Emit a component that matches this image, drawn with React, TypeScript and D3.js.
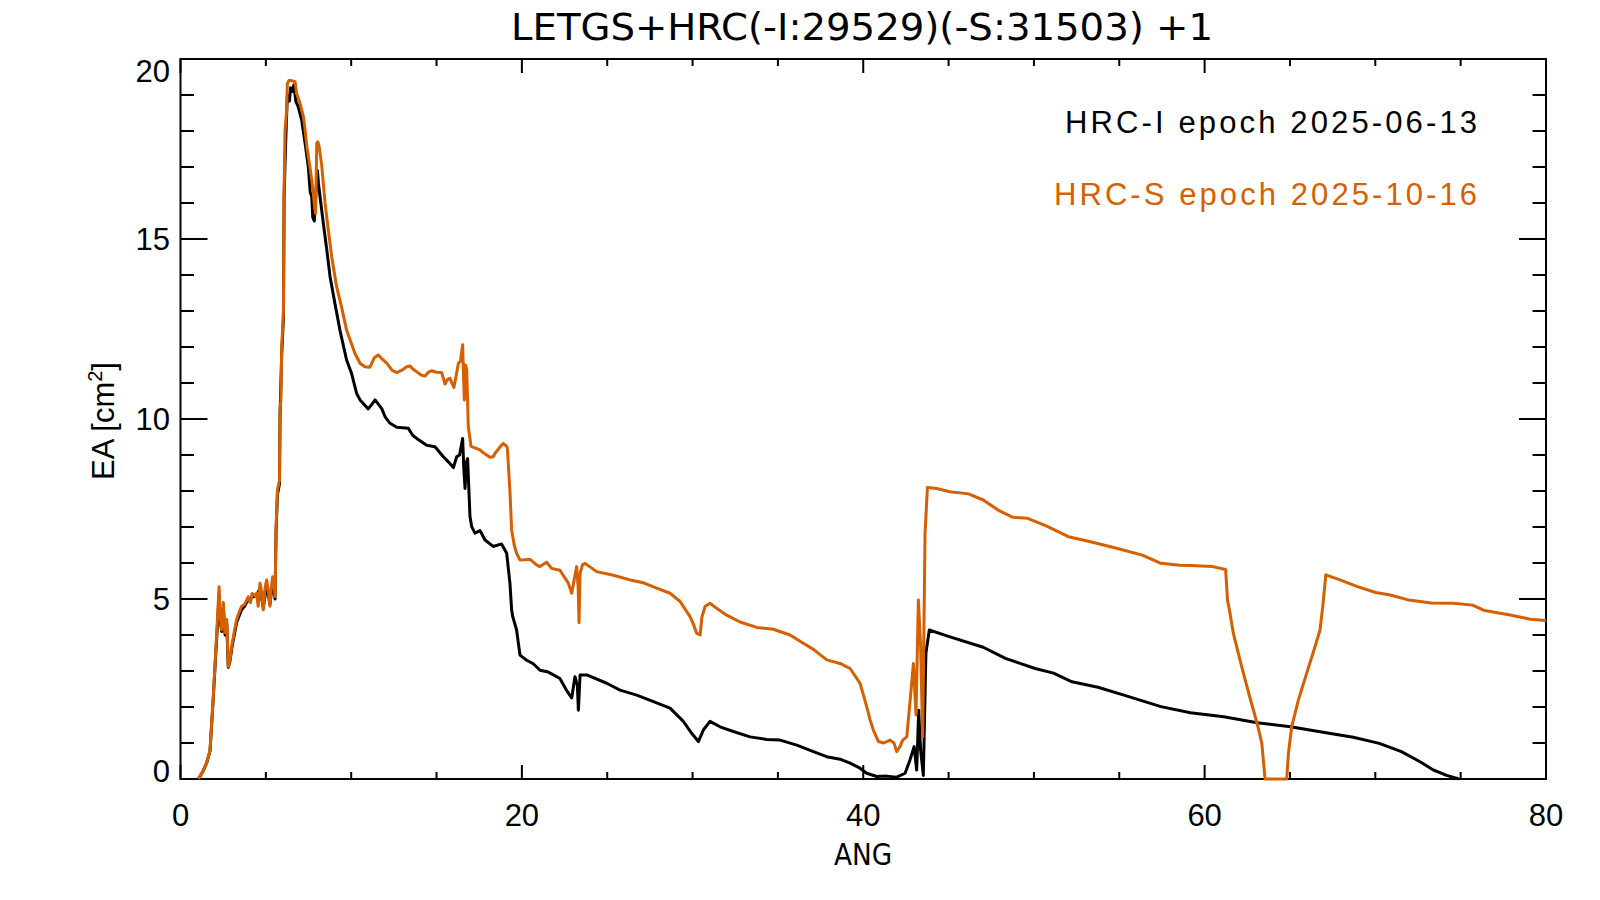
import React, { useEffect, useRef } from 'react';
import * as d3 from 'd3';

// HRC-I effective area (black)
const hrcIAng = [
  1.05, 1.3, 1.53, 1.73, 1.92, 2.08, 2.18, 2.26, 2.33, 2.41, 2.51, 2.61, 2.71, 2.8, 2.9, 3.0, 3.15, 3.29, 3.45, 3.58,
  3.75, 3.97, 4.2, 4.46, 4.66, 4.85, 5.05, 5.24, 5.4, 5.54, 5.6, 5.68, 5.8, 5.83, 5.93, 6.03, 6.07, 6.17, 6.26, 6.38,
  6.45, 6.56, 6.64, 6.76, 6.9, 7.1, 7.3, 7.49, 7.6, 7.69, 7.75, 7.84, 7.95, 8.02, 8.08, 8.22, 8.37, 8.57, 8.76, 9.05,
  9.34, 9.73, 10.02, 10.32, 10.52, 11.0, 11.2, 11.4, 11.79, 12.0, 12.28, 12.67, 13.35, 13.6, 13.84, 14.42, 14.91, 15.4, 15.69, 15.99,
  16.18, 16.35, 16.53, 16.6, 16.67, 16.75, 16.82, 16.96, 17.06, 17.25, 17.55, 17.84, 18.32, 18.81, 19.11, 19.3, 19.4, 19.46, 19.69, 19.89,
  20.28, 20.67, 21.06, 21.55, 22.23, 22.62, 22.92, 23.11, 23.25, 23.31, 23.41, 23.8, 24.97, 25.75, 26.73, 27.71, 28.68, 29.46, 29.95, 30.34,
  30.63, 31.02, 31.61, 32.39, 33.37, 34.35, 35.13, 36.11, 37.08, 37.86, 38.64, 39.23, 39.81, 40.2, 40.79, 41.37, 41.96, 42.45, 42.74, 42.98,
  43.13, 43.25, 43.36, 43.52, 43.67, 43.87, 45.08, 47.03, 48.33, 50.07, 51.15, 52.23, 53.75, 55.27, 57.44, 59.17, 61.12, 63.08, 65.03, 66.76,
  68.71, 70.23, 71.53, 72.62, 73.4, 74.18, 74.9,
];
const hrcIEa = [
  0, 0.2, 0.44, 0.78, 2.25, 3.6, 4.4, 5.1, 4.4, 4.1, 4.7, 4.0, 4.3, 3.1, 3.28, 3.62, 4.0, 4.35, 4.55, 4.7,
  4.8, 4.98, 5.05, 5.1, 5.3, 4.75, 5.4, 4.85, 5.5, 5.0, 6.9, 7.9, 8.2, 10.1, 11.8, 12.8, 16.2, 17.8, 19.0, 18.83,
  19.2, 19.1, 19.28, 18.82, 18.67, 18.3, 17.66, 17.0, 16.3, 16.17, 15.6, 15.5, 16.4, 16.9, 16.55, 16.0, 15.43, 14.7, 13.96, 13.2,
  12.47, 11.64, 11.27, 10.71, 10.53, 10.28, 10.4, 10.53, 10.29, 10.05, 9.88, 9.77, 9.74, 9.55, 9.46, 9.27, 9.23, 8.95, 8.81, 8.65,
  8.95, 9.0, 9.46, 8.6, 8.07, 8.8, 8.9, 7.29, 7.01, 6.83, 6.9, 6.64, 6.46, 6.53, 6.27, 5.44, 4.7, 4.52, 4.14, 3.44,
  3.3, 3.2, 3.02, 2.97, 2.79, 2.46, 2.25, 2.84, 2.6, 1.91, 2.89, 2.89, 2.66, 2.47, 2.33, 2.15, 1.97, 1.6, 1.27, 1.04,
  1.36, 1.6, 1.45, 1.32, 1.17, 1.1, 1.08, 0.94, 0.76, 0.62, 0.55, 0.44, 0.3, 0.16, 0.07, 0.08, 0.05, 0.16, 0.53, 0.9,
  0.25, 1.91, 0.8, 0.1, 3.49, 4.14, 3.95, 3.66, 3.35, 3.07, 2.94, 2.7, 2.55, 2.33, 2.01, 1.84, 1.73, 1.56, 1.45, 1.31,
  1.16, 0.99, 0.76, 0.48, 0.25, 0.1, 0,
];

// HRC-S effective area (orange)
const hrcSAng = [
  1.05, 1.3, 1.53, 1.73, 1.92, 2.08, 2.18, 2.26, 2.33, 2.41, 2.51, 2.61, 2.71, 2.8, 2.9, 3.0, 3.15, 3.29, 3.45, 3.58,
  3.75, 3.97, 4.1, 4.2, 4.35, 4.46, 4.55, 4.66, 4.75, 4.85, 4.95, 5.05, 5.15, 5.24, 5.32, 5.4, 5.5, 5.54, 5.6, 5.68,
  5.8, 5.83, 5.88, 5.93, 6.03, 6.07, 6.12, 6.22, 6.26, 6.35, 6.5, 6.71, 6.8, 7.0, 7.2, 7.3, 7.4, 7.55, 7.69, 7.78,
  7.85, 7.92, 7.98, 8.05, 8.12, 8.27, 8.47, 8.66, 8.86, 9.15, 9.44, 9.73, 10.22, 10.52, 10.8, 11.1, 11.35, 11.59, 11.85, 12.08,
  12.4, 12.67, 13.05, 13.25, 13.45, 13.64, 13.84, 14.1, 14.33, 14.52, 14.71, 15.0, 15.3, 15.5, 15.65, 15.79, 15.9, 16.02, 16.15, 16.28,
  16.4, 16.53, 16.58, 16.63, 16.7, 16.77, 16.82, 16.86, 17.02, 17.25, 17.55, 17.64, 18.13, 18.32, 18.43, 18.82, 18.91, 19.11, 19.15, 19.3,
  19.4, 19.55, 19.69, 19.89, 20.38, 20.48, 20.86, 21.06, 21.45, 21.74, 22.23, 22.5, 22.72, 22.92, 23.05, 23.21, 23.3, 23.35, 23.41, 23.55,
  23.7, 24.38, 25.36, 26.34, 27.12, 27.9, 28.68, 29.27, 29.85, 30.05, 30.24, 30.44, 30.55, 30.73, 31.02, 31.41, 32.0, 32.78, 33.76, 34.73,
  35.71, 36.49, 37.08, 37.86, 38.64, 39.23, 39.81, 40.0, 40.2, 40.4, 40.59, 40.89, 41.2, 41.57, 41.8, 41.96, 42.15, 42.31, 42.55, 42.75,
  42.94, 43.09, 43.23, 43.36, 43.48, 43.62, 43.76, 44.3, 45.08, 46.17, 47.03, 47.9, 48.77, 49.63, 50.72, 52.02, 53.32, 54.84, 56.35, 57.44,
  58.56, 59.17, 60.47, 61.23, 61.34, 61.49, 61.68, 62.17, 62.66, 63.1, 63.35, 63.54, 64.81, 64.91, 65.1, 65.49, 65.98, 66.47, 66.76, 66.92,
  67.1, 67.93, 68.91, 70.02, 70.88, 71.97, 73.27, 74.57, 75.7, 76.4, 77.82, 79.08, 80,
];
const hrcSEa = [
  0, 0.2, 0.44, 0.8, 2.29, 3.68, 4.6, 5.34, 4.5, 4.14, 4.9, 4.06, 4.43, 3.12, 3.3, 3.68, 4.1, 4.43, 4.65, 4.8,
  4.85, 5.06, 4.9, 5.15, 5.1, 5.16, 4.8, 5.44, 5.2, 4.7, 5.3, 5.53, 5.2, 4.8, 5.3, 5.62, 5.3, 5.06, 7.0, 8.03,
  8.3, 10.25, 10.5, 12.0, 13.0, 16.36, 17.98, 18.58, 19.32, 19.4, 19.4, 19.37, 19.05, 18.77, 18.4, 18.03, 17.57, 17.1, 16.64, 16.27,
  15.9, 15.71, 17.66, 17.7, 17.57, 17.06, 16.0, 15.25, 14.5, 13.67, 13.1, 12.47, 11.82, 11.55, 11.45, 11.44, 11.7, 11.78, 11.65, 11.55,
  11.35, 11.29, 11.38, 11.45, 11.47, 11.38, 11.31, 11.22, 11.19, 11.3, 11.34, 11.3, 11.29, 10.97, 11.1, 11.13, 11.0, 10.88, 11.2, 11.55,
  11.6, 12.06, 11.2, 10.53, 11.5, 11.36, 10.5, 9.79, 9.24, 9.2, 9.14, 9.1, 8.94, 8.95, 9.05, 9.28, 9.32, 9.24, 9.19, 8.0,
  6.92, 6.5, 6.27, 6.08, 6.1, 6.1, 5.95, 5.9, 6.02, 5.85, 5.8, 5.6, 5.44, 5.16, 5.5, 5.9, 5.3, 4.34, 5.71, 5.95,
  5.99, 5.76, 5.66, 5.53, 5.45, 5.3, 5.16, 4.93, 4.51, 4.3, 4.05, 4.0, 4.5, 4.79, 4.88, 4.74, 4.55, 4.36, 4.21, 4.16,
  4.0, 3.77, 3.6, 3.31, 3.21, 3.07, 2.66, 2.35, 2.01, 1.65, 1.36, 1.04, 1.0, 1.08, 1.0, 0.76, 0.9, 1.08, 1.17, 2.2,
  3.21, 1.78, 4.97, 3.68, 1.17, 6.82, 8.1, 8.07, 7.98, 7.92, 7.75, 7.47, 7.27, 7.24, 7.03, 6.73, 6.59, 6.41, 6.22, 5.99,
  5.94, 5.93, 5.9, 5.82, 4.97, 4.6, 4.05, 3.12, 2.25, 1.5, 0.99, 0, 0, 0.71, 1.45, 2.19, 2.94, 3.68, 4.14, 4.79,
  5.67, 5.53, 5.35, 5.18, 5.11, 4.97, 4.89, 4.88, 4.83, 4.68, 4.56, 4.44, 4.4,
];

const xMajorTicks = [0, 20, 40, 60, 80];
const xMinorTicks = d3.range(0, 81, 5);
const yMajorTicks = [0, 5, 10, 15, 20];
const yMinorTicks = d3.range(0, 21, 1);

const titleText = 'LETGS+HRC(-I:29529)(-S:31503) +1';
const legendLabels = ['HRC-I epoch 2025-06-13', 'HRC-S epoch 2025-10-16'];
const orange = '#d65f00';

const EAChart: React.FC = () => {
  const width = 1600;
  const height = 900;
  const svgRef = useRef<SVGSVGElement>(null);

  useEffect(() => {
    if (!svgRef.current) return;
    const svg = d3.select(svgRef.current);
    svg.selectAll('*').remove();

    const left = 180.5, right = 1546, top = 59, bottom = 779;
    const xScale = d3.scaleLinear().domain([0, 80]).range([left, right]);
    const yScale = d3.scaleLinear().domain([0, 20]).range([bottom, top]);

    const sans = '"Liberation Sans", Arial, Helvetica, sans-serif';
    const narrow = '"Liberation Sans Narrow", "DejaVu Sans Condensed", "Liberation Sans", sans-serif';

    svg.append('rect').attr('width', width).attr('height', height).attr('fill', 'white');

    // frame
    svg.append('rect')
      .attr('x', left).attr('y', top)
      .attr('width', right - left).attr('height', bottom - top)
      .attr('fill', 'none')
      .attr('stroke', 'black')
      .attr('stroke-width', 2);

    // x ticks (bottom + top)
    xMinorTicks.forEach(v => {
      const len = xMajorTicks.includes(v) ? 14 : 7;
      const x = xScale(v);
      svg.append('line').attr('x1', x).attr('x2', x).attr('y1', bottom).attr('y2', bottom - len)
        .attr('stroke', 'black').attr('stroke-width', 2);
      svg.append('line').attr('x1', x).attr('x2', x).attr('y1', top).attr('y2', top + len)
        .attr('stroke', 'black').attr('stroke-width', 2);
    });

    // y ticks (left + right)
    yMinorTicks.forEach(v => {
      const len = yMajorTicks.includes(v) ? 27 : 13.5;
      const y = yScale(v);
      svg.append('line').attr('x1', left).attr('x2', left + len).attr('y1', y).attr('y2', y)
        .attr('stroke', 'black').attr('stroke-width', 2);
      svg.append('line').attr('x1', right).attr('x2', right - len).attr('y1', y).attr('y2', y)
        .attr('stroke', 'black').attr('stroke-width', 2);
    });

    // data lines, drawn over the frame like the original
    const line = d3.line<[number, number]>()
      .x(d => xScale(d[0]))
      .y(d => yScale(d[1]));

    const series = [
      { ang: hrcIAng, ea: hrcIEa, color: 'black' },
      { ang: hrcSAng, ea: hrcSEa, color: orange },
    ];
    series.forEach(s => {
      const pts: [number, number][] = s.ang.map((a, i) => [a, s.ea[i]]);
      svg.append('path')
        .datum(pts)
        .attr('d', line)
        .attr('fill', 'none')
        .attr('stroke', s.color)
        .attr('stroke-width', 3)
        .attr('stroke-linejoin', 'round');
    });

    // tick labels
    xMajorTicks.forEach(v => {
      svg.append('text')
        .attr('x', xScale(v))
        .attr('y', 826)
        .attr('text-anchor', 'middle')
        .attr('font-family', sans)
        .attr('font-size', 31)
        .text(String(v));
    });
    yMajorTicks.forEach(v => {
      svg.append('text')
        .attr('x', 170)
        .attr('y', Math.min(Math.max(yScale(v) + 11, 82), 782))
        .attr('text-anchor', 'end')
        .attr('font-family', sans)
        .attr('font-size', 31)
        .text(String(v));
    });

    // axis titles
    svg.append('text')
      .attr('x', 863)
      .attr('y', 865)
      .attr('text-anchor', 'middle')
      .attr('font-family', narrow)
      .attr('font-size', 31)
      .attr('textLength', 58)
      .attr('lengthAdjust', 'spacingAndGlyphs')
      .text('ANG');

    const yTitle = svg.append('text')
      .attr('transform', 'translate(114,421) rotate(-90)')
      .attr('text-anchor', 'middle')
      .attr('font-family', sans)
      .attr('font-size', 31);
    yTitle.append('tspan').text('EA [cm');
    yTitle.append('tspan').attr('font-size', 20).attr('dy', -12).text('2');
    yTitle.append('tspan').attr('dy', 12).text(']');

    // title
    svg.append('text')
      .attr('x', 862)
      .attr('y', 40)
      .attr('text-anchor', 'middle')
      .attr('font-family', narrow)
      .attr('font-size', 37)
      .attr('textLength', 702)
      .attr('lengthAdjust', 'spacingAndGlyphs')
      .text(titleText);

    // legend
    const legendColors = ['black', orange];
    const legendY = [133, 205];
    const legendW = [412, 423];
    legendLabels.forEach((t, i) => {
      svg.append('text')
        .attr('x', 1477 - legendW[i])
        .attr('y', legendY[i])
        .attr('font-family', sans)
        .attr('font-size', 31)
        .attr('fill', legendColors[i])
        .attr('textLength', legendW[i])
        .attr('lengthAdjust', 'spacing')
        .text(t);
    });
  }, [height, width]);

  return (
    <svg ref={svgRef} width={width} height={height}
      style={{ position: 'absolute', left: 0, top: 0 }}>
    </svg>
  );
};

export default function App() {
  return <EAChart />;
}
